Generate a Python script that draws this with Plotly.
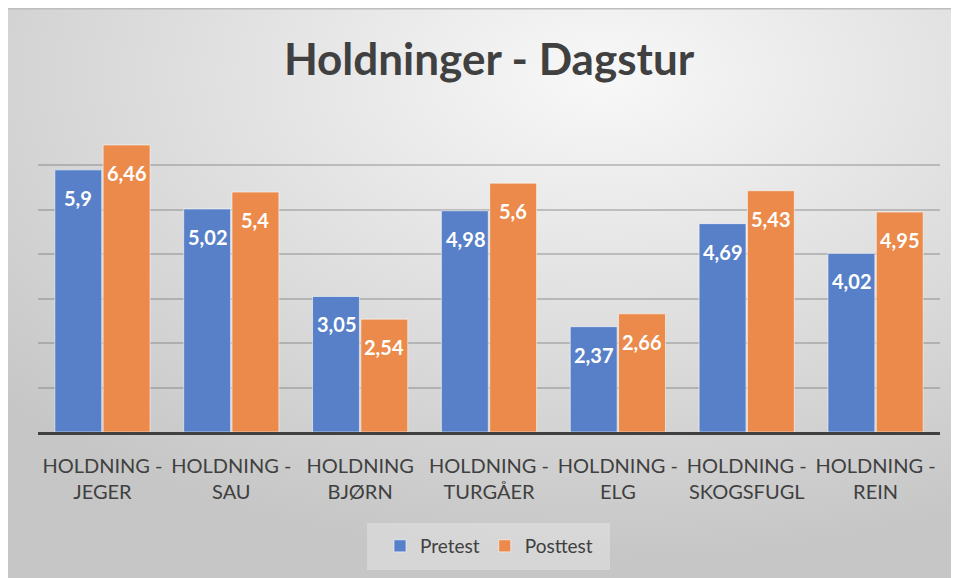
import plotly.graph_objects as go
from urllib.parse import quote

categories = ["HOLDNING -<br>JEGER", "HOLDNING -<br>SAU", "HOLDNING<br>BJØRN",
              "HOLDNING -<br>TURGÅER", "HOLDNING -<br>ELG", "HOLDNING -<br>SKOGSFUGL",
              "HOLDNING -<br>REIN"]
pretest = [5.9, 5.02, 3.05, 4.98, 2.37, 4.69, 4.02]
posttest = [6.46, 5.4, 2.54, 5.6, 2.66, 5.43, 4.95]

BLUE = "#5780c8"
ORANGE = "#eb8a4a"
TEXT = "#404040"
FONT = "Lato, 'Open Sans', sans-serif"

W, H = 959, 570
L, R, T, B = 30, 27, 113, 146
pw, ph = W - L - R, H - T - B

# Excel-like grey radial gradient for the chart area
svg = (
    f"<svg xmlns='http://www.w3.org/2000/svg' width='{W}' height='{H}' preserveAspectRatio='none'>"
    "<defs><radialGradient id='g' cx='0.62' cy='0.12' r='0.85' fx='0.62' fy='0.12'>"
    "<stop offset='0' stop-color='#f8f8f8'/><stop offset='1' stop-color='#c6c6c6'/>"
    "</radialGradient></defs>"
    f"<rect width='{W}' height='{H}' fill='url(#g)'/></svg>"
)
bg_src = "data:image/svg+xml;charset=utf-8," + quote(svg)


def fmt(v):
    return f"{v:g}".replace(".", ",")


def px_x(p):
    return (p - L) / pw


def px_y(p):
    return (H - B - p) / ph


fig = go.Figure()
for name, vals, color in [("Pretest", pretest, BLUE), ("Posttest", posttest, ORANGE)]:
    fig.add_trace(go.Bar(
        x=categories, y=vals, name=name,
        marker=dict(color=color, line=dict(color="rgba(255,255,255,0.55)", width=1)),
    ))

# data labels, a bit below the bar top like Excel's "inside end"
for i, cat in enumerate(categories):
    for vals, shift in [(pretest, -24), (posttest, 24)]:
        fig.add_annotation(
            x=cat, y=vals[i], text=f"<b>{fmt(vals[i])}</b>", showarrow=False,
            xshift=shift, yshift=-28, yanchor="middle",
            font=dict(family=FONT, size=20, color="white"),
        )

fig.add_layout_image(
    source=bg_src, xref="paper", yref="paper",
    x=px_x(0), y=px_y(0), sizex=px_x(W) - px_x(0), sizey=px_y(0) - px_y(H),
    xanchor="left", yanchor="top", sizing="stretch", layer="below",
)
# top border line of chart area
fig.add_shape(type="line", xref="paper", yref="paper",
              x0=px_x(0), x1=px_x(W), y0=px_y(0.5), y1=px_y(0.5),
              line=dict(color="#bdbdbd", width=2))
# legend box
fig.add_shape(type="rect", xref="paper", yref="paper",
              x0=px_x(359), x1=px_x(602), y0=px_y(562), y1=px_y(515),
              fillcolor="rgba(255,255,255,0.28)", line=dict(width=0), layer="below")

fig.update_layout(
    width=W, height=H,
    margin=dict(l=L, r=R, t=T, b=B),
    paper_bgcolor="#cfcfcf", plot_bgcolor="rgba(0,0,0,0)",
    font=dict(family=FONT, color=TEXT),
    title=dict(text="<b>Holdninger - Dagstur</b>", x=0.5, xref="paper",
               y=1 - 52 / H, yref="container", yanchor="middle",
               font=dict(family=FONT, size=44, color=TEXT)),
    barmode="group", bargap=0.25, bargroupgap=0.03,
    showlegend=True,
    legend=dict(orientation="h", x=0.5, xanchor="center", y=px_y(538), yanchor="middle",
                bgcolor="rgba(0,0,0,0)", font=dict(family=FONT, size=19, color=TEXT),
                itemwidth=30),
)
fig.update_xaxes(showline=True, linecolor="#404040", linewidth=3,
                 ticks="outside", ticklen=14, tickcolor="rgba(0,0,0,0)",
                 tickfont=dict(family=FONT, size=20, color=TEXT), showgrid=False)
fig.update_yaxes(range=[0, 7], dtick=1, showticklabels=False, zeroline=False,
                 showgrid=True, gridcolor="rgba(110,110,110,0.35)", gridwidth=1.5)

fig.write_html("out.html")
